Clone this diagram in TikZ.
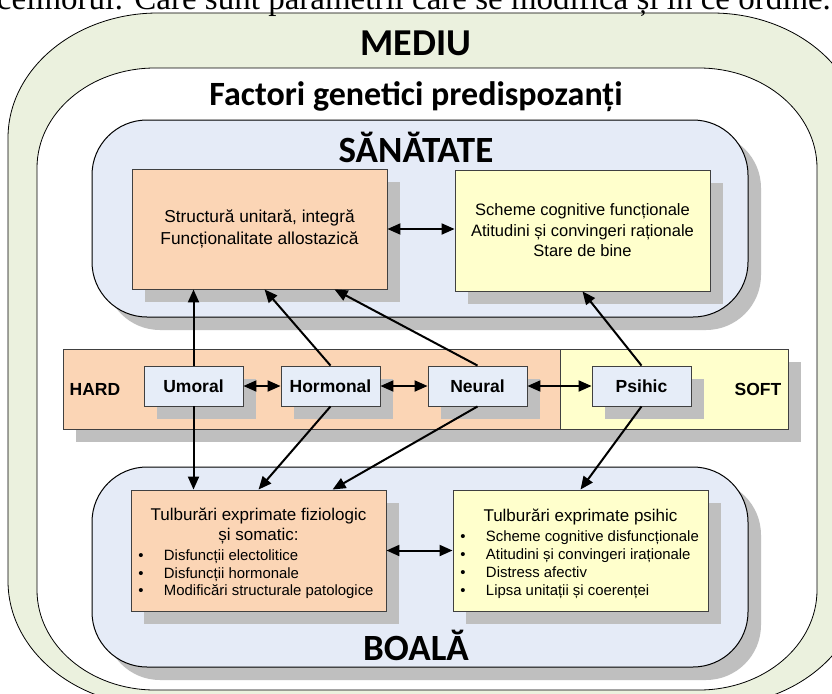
\documentclass[tikz,border=0pt]{standalone}
\usepackage{fontspec}
\setmainfont{Liberation Sans}
\newfontfamily\calfont{Carlito}
\newfontfamily\timesfont{Liberation Serif}
\usetikzlibrary{arrows.meta,shadows}
\definecolor{mediugreen}{HTML}{EBF1DE}
\definecolor{boxblue}{HTML}{E5EBF7}
\definecolor{peach}{HTML}{FBD5B5}
\definecolor{paleyellow}{HTML}{FFFFCC}
\definecolor{smallblue}{HTML}{E6EDF8}
\definecolor{shadowgray}{HTML}{BFBFBF}
\definecolor{edgegray}{HTML}{404040}
\newcommand{\fsz}[2]{\fontsize{#1}{#2}\selectfont}
\newcommand{\ERpath}[6]{(#1,{#2+#6}) .. controls (#1,{#2+0.448*#6}) and ({#1+0.448*#5},#2) .. ({#1+#5},#2) -- ({#3-#5},#2) .. controls ({#3-0.448*#5},#2) and (#3,{#2+0.448*#6}) .. (#3,{#2+#6}) -- (#3,{#4-#6}) .. controls (#3,{#4-0.448*#6}) and ({#3-0.448*#5},#4) .. ({#3-#5},#4) -- ({#1+#5},#4) .. controls ({#1+0.448*#5},#4) and (#1,{#4-0.448*#6}) .. (#1,{#4-#6}) -- cycle}
\newcommand{\bitem}[1]{\makebox[255pt][l]{\fsz{14.9}{17.5}\hspace{7pt}\makebox[6pt]{\textbullet}\hspace{20pt}#1}}
\begin{document}
\begin{tikzpicture}[x=1pt,y=-1pt,
  shd/.style={drop shadow={shadow xshift=13pt,shadow yshift=-13pt,fill=shadowgray,opacity=1}},
  bigblue/.style={draw=black,line width=1pt,fill=boxblue,rounded corners=55pt,shd,minimum width=656pt,inner sep=0pt},
  bigtitle/.style={font=\calfont\bfseries\fsz{37}{40}},
  contentbox/.style={draw=edgegray,line width=0.9pt,shd,minimum width=255pt,inner sep=0pt,align=center},
  smallbox/.style={draw=edgegray,line width=0.9pt,fill=smallblue,shd,minimum width=99pt,minimum height=40pt,inner sep=0pt,font=\bfseries\fsz{17.5}{20}},
  bandbox/.style={draw=edgegray,line width=0.9pt,shd,minimum height=80pt,inner sep=0pt},
  arr/.style={-{Triangle[length=13pt,width=11pt]},line width=2pt},
  darr/.style={{Triangle[length=13pt,width=11pt]}-{Triangle[length=13pt,width=11pt]},line width=2pt}]
\useasboundingbox (0,0) rectangle (832,693);
\clip (0,0) rectangle (832,693);
% background shapes
\fill[white] (0,0) rectangle (832,693);
\draw[fill=mediugreen,line width=0.8pt] \ERpath{8}{13}{862}{706}{150}{125};
\draw[fill=white,line width=0.8pt] \ERpath{37}{68}{817}{690}{118}{100};
\node[font=\timesfont\fsz{33}{36},anchor=base east,inner sep=0pt] (toptext) at (831,10) {celinorul: Care sunt parametrii care se modifică și în ce ordine.};
\node[font=\calfont\bfseries\fsz{38}{42}] (mediu) at (416,43) {MEDIU};
\node[font=\calfont\bfseries\fsz{34}{38}] (factori) at (416,97) {Factori genetici predispozanți};
% big blue boxes
\node[bigblue,minimum height=197pt] (san) at (420,218.5) {};
\node[bigblue,minimum height=200pt] (boala) at (420,567) {};
\node[bigtitle] (santitle) at (416,147) {SĂNĂTATE};
\node[bigtitle] (boalatitle) at (416,645) {BOALĂ};
% content boxes
\node[contentbox,fill=peach,minimum height=120pt,font=\fsz{17.3}{22}] (struct) at (259.5,229) {Structură unitară, integră\\Funcționalitate allostazică};
\node[contentbox,fill=paleyellow,minimum height=121pt,font=\fsz{16.5}{20.5}] (scheme) at (582.5,230.5) {Scheme cognitive funcționale\\Atitudini și convingeri raționale\\Stare de bine};
\node[contentbox,fill=peach,minimum height=121pt,font=\fsz{17}{20}] (fiz) at (258.5,550.5) {\rule{0pt}{19pt}Tulburări exprimate fiziologic\\și somatic:\\[0pt]
  \bitem{Disfuncții electolitice}\\[-2.5pt]\bitem{Disfuncții hormonale}\\[-2.5pt]\bitem{Modificări structurale patologice}};
\node[contentbox,fill=paleyellow,minimum height=121pt,font=\fsz{17}{20}] (psi) at (580.5,550.5) {\rule{0pt}{19pt}Tulburări exprimate psihic\\[0pt]
  \bitem{Scheme cognitive disfuncționale}\\[-2pt]\bitem{Atitudini și convingeri iraționale}\\[-2pt]\bitem{Distress afectiv}\\[-2pt]\bitem{Lipsa unitații și coerenței}};
% band
\node[bandbox,fill=peach,minimum width=497pt] (hard) at (311.5,389) {};
\node[bandbox,fill=paleyellow,minimum width=228pt] (soft) at (674,389) {};
\node[font=\bfseries\fsz{17.5}{20}] (hardlabel) at (95,389) {HARD};
\node[font=\bfseries\fsz{17.5}{20}] (softlabel) at (758,389) {SOFT};
% small boxes
\node[smallbox] (umoral) at (193.5,386) {Umoral};
\node[smallbox] (hormonal) at (330.5,386) {Hormonal};
\node[smallbox] (neural) at (477.5,386) {Neural};
\node[smallbox] (psihic) at (641.5,386) {Psihic};
% arrows
\draw[arr] (umoral.north) -- (umoral.north |- struct.south);
\draw[arr] (hormonal.north) -- ([xshift=133pt]struct.south west);
\draw[arr] (neural.north) -- ([xshift=203pt]struct.south west);
\draw[arr] (psihic.north) -- (scheme.south);
\draw[arr] (umoral.south) -- (umoral.south |- fiz.north);
\draw[arr] (hormonal.south) -- (fiz.north);
\draw[arr] (neural.south) -- ([xshift=202pt]fiz.north west);
\draw[arr] (psihic.south) -- (psi.north);
\draw[darr] (struct.east) -- (struct.east -| scheme.west);
\draw[darr] (fiz.east) -- (fiz.east -| psi.west);
\draw[darr] (umoral.east) -- (hormonal.west);
\draw[darr] (hormonal.east) -- (neural.west);
\draw[darr] (neural.east) -- (psihic.west);
\end{tikzpicture}
\end{document}
